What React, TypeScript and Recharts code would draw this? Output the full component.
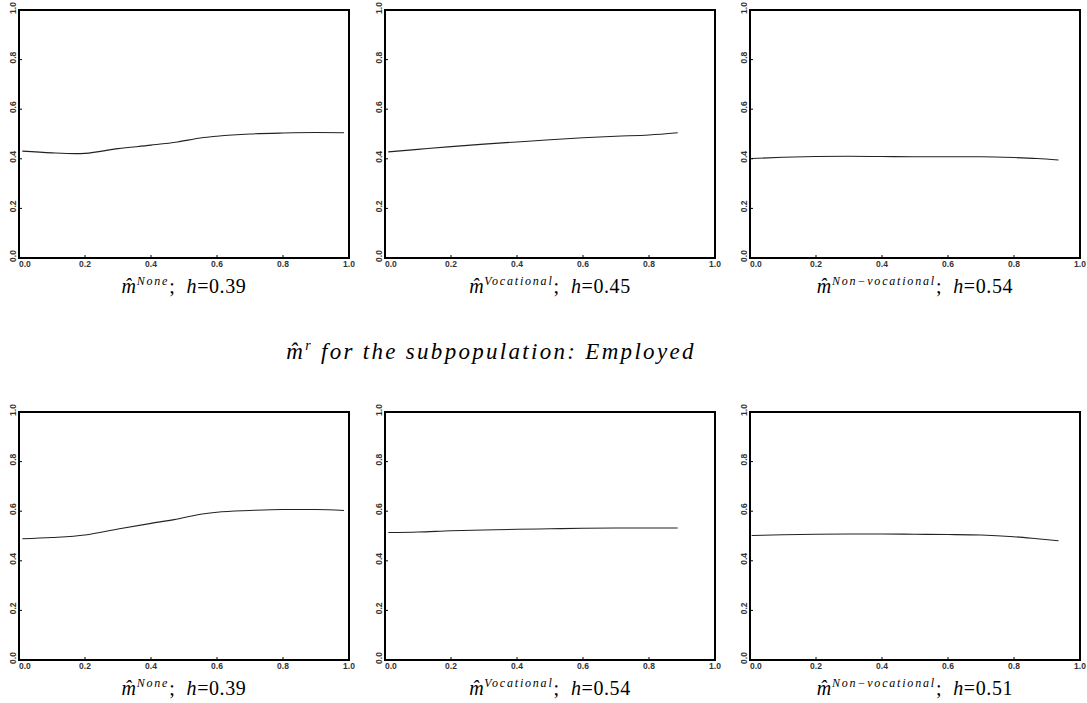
import React from "react";
import {
  LineChart,
  Line,
  XAxis,
  YAxis,
  ReferenceArea,
} from "recharts";

// estimated kernel regression curves
const noneTopX = [0.01, 0.1, 0.17, 0.2, 0.3, 0.4, 0.48, 0.55, 0.6, 0.7, 0.8, 0.9, 0.985];
const noneTopY = [0.431, 0.424, 0.421, 0.422, 0.441, 0.455, 0.468, 0.484, 0.491, 0.5, 0.504, 0.506, 0.505];

const vocTopX = [0.01, 0.1, 0.2, 0.3, 0.4, 0.5, 0.6, 0.7, 0.8, 0.887];
const vocTopY = [0.428, 0.438, 0.449, 0.459, 0.468, 0.477, 0.485, 0.491, 0.496, 0.505];

const nonvocTopX = [0.005, 0.1, 0.2, 0.3, 0.4, 0.5, 0.6, 0.7, 0.8, 0.87, 0.935];
const nonvocTopY = [0.401, 0.406, 0.409, 0.41, 0.409, 0.408, 0.408, 0.408, 0.405, 0.401, 0.395];

const noneEmpX = [0.01, 0.1, 0.2, 0.3, 0.4, 0.47, 0.55, 0.6, 0.7, 0.8, 0.9, 0.985];
const noneEmpY = [0.489, 0.494, 0.504, 0.528, 0.551, 0.566, 0.588, 0.596, 0.603, 0.607, 0.607, 0.603];

const vocEmpX = [0.01, 0.1, 0.2, 0.3, 0.4, 0.5, 0.6, 0.7, 0.8, 0.887];
const vocEmpY = [0.514, 0.516, 0.521, 0.524, 0.527, 0.529, 0.531, 0.532, 0.532, 0.532];

const nonvocEmpX = [0.005, 0.1, 0.2, 0.3, 0.4, 0.5, 0.6, 0.7, 0.8, 0.87, 0.935];
const nonvocEmpY = [0.502, 0.505, 0.507, 0.508, 0.508, 0.507, 0.506, 0.504, 0.497, 0.489, 0.481];

const ticks = [0, 0.2, 0.4, 0.6, 0.8, 1];
const title = "for the subpopulation: Employed";

const toRows = (xs, ys) => xs.map((x, i) => ({ x, y: ys[i] }));

const panels = [
  { left: 19, top: 10, sup: "None", h: "0.39", data: toRows(noneTopX, noneTopY) },
  { left: 385, top: 10, sup: "Vocational", h: "0.45", data: toRows(vocTopX, vocTopY) },
  { left: 750, top: 10, sup: "Non\u2212vocational", h: "0.54", data: toRows(nonvocTopX, nonvocTopY) },
  { left: 19, top: 412, sup: "None", h: "0.39", data: toRows(noneEmpX, noneEmpY) },
  { left: 385, top: 412, sup: "Vocational", h: "0.54", data: toRows(vocEmpX, vocEmpY) },
  { left: 750, top: 412, sup: "Non\u2212vocational", h: "0.51", data: toRows(nonvocEmpX, nonvocEmpY) },
];

const tickFont = {
  fontFamily: "'Liberation Sans', Arial, sans-serif",
  fontSize: 8.5,
  fontWeight: 700,
  fill: "#333",
};

const XTick = (props) => {
  const { x, y, payload, index } = props;
  return (
    <text
      x={x}
      y={y}
      dy="0.71em"
      textAnchor={index === 0 ? "start" : "middle"}
      {...tickFont}
    >
      {payload.value.toFixed(1)}
    </text>
  );
};

const YTick = (props) => {
  const { x, y, payload } = props;
  return (
    <text
      x={x}
      y={y - 2}
      transform={`rotate(-90 ${x} ${y - 2})`}
      textAnchor="middle"
      dominantBaseline="central"
      {...tickFont}
    >
      {payload.value.toFixed(1)}
    </text>
  );
};

const serif = "'Liberation Serif', 'Times New Roman', serif";

const Caption = ({ sup, h }) => (
  <span style={{ fontFamily: serif, fontSize: 20, whiteSpace: "nowrap", letterSpacing: 0.6 }}>
    <i>m&#770;</i>
    <sup style={{ fontSize: 12, fontStyle: "italic", verticalAlign: "8px", letterSpacing: 1.8 }}>{sup}</sup>
    ;&nbsp; <i>h</i>=0.{h.slice(2)}
  </span>
);

const Panel = ({ left, top, sup, h, data }) => (
  <div style={{ position: "absolute", left: left - 19, top: top - 10 }}>
    <LineChart
      width={366}
      height={280}
      data={data}
      margin={{ top: 10, right: 17, left: 0, bottom: 0 }}
    >
      <XAxis
        xAxisId="b"
        dataKey="x"
        type="number"
        domain={[0, 1]}
        ticks={ticks}
        height={22}
        axisLine={false}
        tickSize={-3}
        tickMargin={6}
        tickLine={{ stroke: "#000" }}
        tick={<XTick />}
        interval={0}
      />
      <XAxis
        xAxisId="t"
        dataKey="x"
        type="number"
        orientation="top"
        domain={[0, 1]}
        ticks={ticks}
        height={0}
        axisLine={false}
        tickSize={-3}
        tickLine={{ stroke: "#000" }}
        tick={false}
      />
      <YAxis
        yAxisId="l"
        type="number"
        domain={[0, 1]}
        ticks={ticks}
        width={19}
        axisLine={false}
        tickSize={-3}
        tickMargin={9}
        tickLine={{ stroke: "#000" }}
        tick={<YTick />}
        interval={0}
      />
      <YAxis
        yAxisId="r"
        type="number"
        orientation="right"
        domain={[0, 1]}
        ticks={ticks}
        width={0}
        axisLine={false}
        tickSize={-3}
        tickLine={{ stroke: "#000" }}
        tick={false}
      />
      <ReferenceArea
        xAxisId="b"
        yAxisId="l"
        x1={0}
        x2={1}
        y1={0}
        y2={1}
        fill="none"
        stroke="#000"
        strokeWidth={2}
      />
      <Line
        xAxisId="b"
        yAxisId="l"
        dataKey="y"
        type="monotone"
        stroke="#222"
        strokeWidth={1.1}
        dot={false}
        isAnimationActive={false}
      />
    </LineChart>
    <div
      style={{
        position: "absolute",
        left: 19,
        width: 330,
        top: 274,
        textAlign: "center",
      }}
    >
      <Caption sup={sup} h={h} />
    </div>
  </div>
);

export default function App() {
  return (
    <div
      style={{
        position: "absolute",
        left: 0,
        top: 0,
        width: 1087,
        height: 703,
        background: "#fff",
        overflow: "hidden",
      }}
    >
      {panels.map((p, i) => (
        <Panel key={i} {...p} />
      ))}
      <div
        style={{
          position: "absolute",
          left: 0,
          width: 982,
          top: 338,
          textAlign: "center",
          fontFamily: serif,
          fontStyle: "italic",
          fontSize: 23,
          letterSpacing: 2.3,
          whiteSpace: "nowrap",
        }}
      >
        m&#770;<sup style={{ fontSize: 14, verticalAlign: "9px" }}>r</sup> {title}
      </div>
    </div>
  );
}
